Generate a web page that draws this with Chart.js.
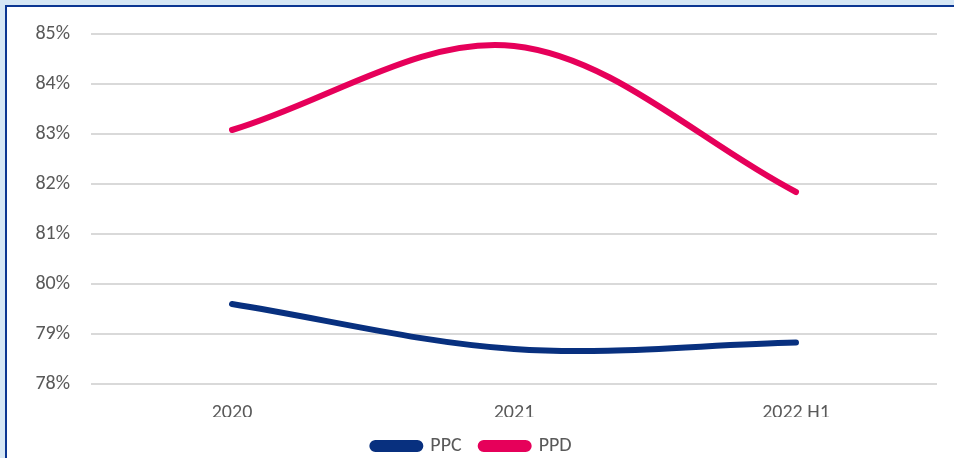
<!DOCTYPE html>
<html>
<head>
<meta charset="utf-8">
<script src="https://cdn.jsdelivr.net/npm/chart.js@4/dist/chart.umd.min.js"></script>
<style>
  html, body { margin: 0; padding: 0; background: #d6e7f5; width: 954px; height: 458px; overflow: hidden; }
  #frame {
    position: absolute; left: 5px; top: 5px; width: 960px; height: 470px;
    background: #ffffff; border-left: 2px solid #0b3692; border-top: 2px solid #0b3692;
  }
  #wrap { position: absolute; left: 0; top: 0; width: 947px; height: 451px; }
</style>
</head>
<body>
<div id="frame"><div id="wrap"><canvas id="c"></canvas></div></div>
<script>
const categories = ['2020', '2021', '2022 H1'];
const ppc = [79.6, 78.7, 78.83];
const ppd = [83.08, 84.76, 81.84];
const yTicks = [78, 79, 80, 81, 82, 83, 84, 85];

const textColor = '#595959';
const fontFamily = 'Carlito, Lato, "Open Sans", sans-serif';
const fontSize = 20;

new Chart(document.getElementById('c'), {
  type: 'line',
  data: {
    labels: categories,
    datasets: [
      { label: 'PPC', data: ppc, borderColor: '#08307f', backgroundColor: '#08307f',
        borderWidth: 6, borderCapStyle: 'round', pointRadius: 0, tension: 0.34 },
      { label: 'PPD', data: ppd, borderColor: '#e6005a', backgroundColor: '#e6005a',
        borderWidth: 6, borderCapStyle: 'round', pointRadius: 0, tension: 0.34 }
    ]
  },
  options: {
    responsive: true,
    maintainAspectRatio: false,
    animation: false,
    layout: { padding: { top: 27, right: 17, left: 0, bottom: 0 } },
    plugins: {
      tooltip: { enabled: false },
      legend: {
        position: 'bottom',
        maxHeight: 41,
        labels: {
          color: textColor,
          font: { family: fontFamily, size: fontSize },
          boxWidth: 48,
          boxHeight: 6,
          useBorderRadius: true,
          borderRadius: 3,
          padding: 19
        }
      }
    },
    scales: {
      x: {
        offset: true,
        grid: { display: false, drawTicks: true, tickLength: 25 },
        border: { display: false },
        ticks: { color: textColor, font: { family: fontFamily, size: fontSize, lineHeight: 0.4 }, padding: 0 }
      },
      y: {
        min: 78, max: 85,
        afterBuildTicks: (axis) => { axis.ticks = yTicks.map(v => ({ value: v })); },
        afterFit: (axis) => { axis.width = 84; },
        grid: { color: '#d9d9d9', lineWidth: 2, drawTicks: true, tickLength: 20, tickColor: 'rgba(0,0,0,0)' },
        border: { display: false },
        ticks: { color: textColor, font: { family: fontFamily, size: fontSize }, padding: 1,
          callback: (v) => v + '%' }
      }
    }
  }
});
</script>
</body>
</html>
